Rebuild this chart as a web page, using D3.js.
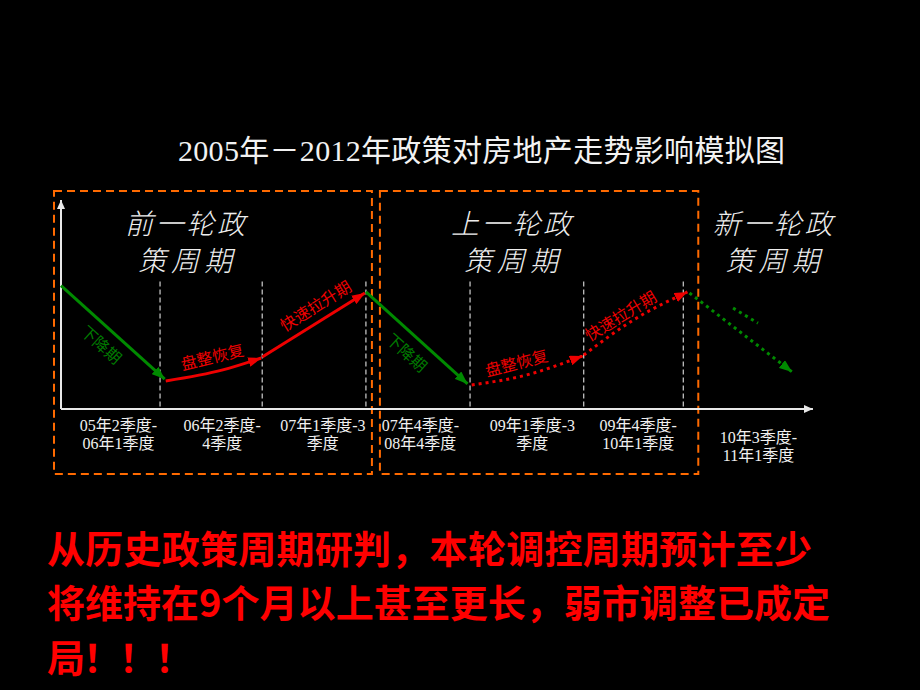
<!DOCTYPE html>
<html><head><meta charset="utf-8">
<script src="https://cdn.jsdelivr.net/npm/d3@7"></script>
<style>html,body{margin:0;padding:0;background:#000;} svg{display:block;}</style>
</head><body><svg id="c" width="920" height="690"></svg>
<script>
// ---------- DATA ----------
const chartTitle = "2005年－2012年政策对房地产走势影响模拟图";
const conclusionLines = ["从历史政策周期研判，本轮调控周期预计至少", "将维持在9个月以上甚至更长，弱市调整已成定", "局！！！"];
const periodTitles = [["前一轮政", "策周期"], ["上一轮政", "策周期"], ["新一轮政", "策周期"]];
const periodTitleX = [1.196, 4.34, 6.86];          // period units
const periodLabels = [["05年2季度-", "06年1季度"], ["06年2季度-", "4季度"], ["07年1季度-3", "季度"],
                      ["07年4季度-", "08年4季度"], ["09年1季度-3", "季度"], ["09年4季度-", "10年1季度"],
                      ["10年3季度-", "11年1季度"]];
const periodLabelX = [0.55, 1.55, 2.52, 3.46, 4.54, 5.56, 6.72];
const boundaries = [0.955, 1.94, 2.94, 3.944, 5.04, 6.0];
const boundaryTop = 61;
// schematic market index per phase: [period position, index]
const downA = [[0, 59], [1.0, 14.3]];
const flatA = [[1.01, 13.4], [1.56, 18.7], [1.93, 24.4]];
const upA   = [[1.94, 24.9], [2.93, 55.5]];
const downB = [[2.94, 56], [3.92, 12]];
const flatB = [[3.96, 11.5], [4.49, 16.3], [5.03, 25.4]];
const upB   = [[5.04, 25.8], [5.52, 42.6], [6.04, 56]];
const downC = [[6.06, 55.5], [7.05, 17.7]];
const hintC = [[6.48, 48.3], [6.72, 41.1]];
const phaseNames = ["下降期", "盘整恢复", "快速拉升期", "下降期", "盘整恢复", "快速拉升期"];
const phaseLabelPos = [[0.395, 31.1], [1.456, 25.4], [2.45, 49.8], [3.34, 27.3], [4.39, 22.5], [5.39, 45]];

// ---------- LAYOUT ----------
const svg = d3.select("#c");
svg.append("rect").attr("width", 920).attr("height", 690).attr("fill", "#000");
const x = d3.scaleLinear().domain([0, 7]).range([61, 787]);
const y = d3.scaleLinear().domain([0, 100]).range([409, 200]);
const GREEN = "#008a00", RED = "#ee0000", ORANGE = "#ff6a00";
const CJK = "'Noto Sans CJK SC', sans-serif";
const SERIF = "'Liberation Serif', 'Noto Sans CJK SC', serif";

const defs = svg.append("defs");
function marker(id, color, w, h) {
  defs.append("marker").attr("id", id).attr("markerUnits", "userSpaceOnUse")
    .attr("viewBox", `0 0 ${w} ${h}`).attr("markerWidth", w).attr("markerHeight", h)
    .attr("refX", w).attr("refY", h / 2).attr("orient", "auto")
    .append("path").attr("d", `M0,0L${w},${h / 2}L0,${h}Z`).attr("fill", color);
}
marker("ag", GREEN, 13, 10);
marker("ar", RED, 13, 10);
marker("aw", "#e8e8e8", 9, 8);

// title
svg.append("text").attr("x", 178).attr("y", 161).attr("fill", "#f2f2f2")
  .attr("font-family", SERIF).attr("font-size", 30)
  .attr("textLength", 607).attr("lengthAdjust", "spacing").text(chartTitle);

// orange frames
const frames = [[x(0) - 7, x(boundaries[2]) + 6], [x(boundaries[2]) + 14, x(boundaries[5]) + 15]];
svg.selectAll(".frame").data(frames).join("rect").attr("class", "frame")
  .attr("x", d => d[0]).attr("y", 191).attr("width", d => d[1] - d[0]).attr("height", 283)
  .attr("fill", "none").attr("stroke", ORANGE).attr("stroke-width", 2).attr("stroke-dasharray", "8,5");

// period boundaries
svg.selectAll(".bnd").data(boundaries).join("line").attr("class", "bnd")
  .attr("x1", d => x(d)).attr("x2", d => x(d)).attr("y1", y(boundaryTop)).attr("y2", y(0))
  .attr("stroke", "#cfcfcf").attr("stroke-width", 1.2).attr("stroke-dasharray", "5,3");

// axes
svg.append("line").attr("x1", x(0)).attr("x2", x(0)).attr("y1", y(0)).attr("y2", y(100))
  .attr("stroke", "#e8e8e8").attr("stroke-width", 2).attr("marker-end", "url(#aw)");
svg.append("line").attr("x1", x(0)).attr("x2", x(7.25)).attr("y1", y(0)).attr("y2", y(0))
  .attr("stroke", "#e8e8e8").attr("stroke-width", 2).attr("marker-end", "url(#aw)");

const xAxis = d3.axisBottom(x).tickValues(periodLabelX).tickSize(0).tickFormat(() => "");
const ax = svg.append("g").attr("transform", `translate(0,${y(0)})`).call(xAxis);
ax.select(".domain").remove();
ax.selectAll(".tick text").each(function (d, i) {
  const t = d3.select(this).attr("fill", "#f0f0f0").attr("font-family", SERIF).attr("font-size", 16)
    .attr("y", 0).attr("dy", null);
  const off = i === 6 ? 12 : 0;
  periodLabels[i].forEach((s, k) => {
    t.append("tspan").attr("x", 0).attr("y", 22 + off + k * 18).text(s);
  });
});

// period titles
periodTitles.forEach((lines, i) => {
  lines.forEach((s, k) => {
    svg.append("text").attr("x", x(periodTitleX[i])).attr("y", 234 + k * 37)
      .attr("text-anchor", "middle").attr("fill", "#eeeeee")
      .attr("font-family", CJK).attr("font-weight", 300).attr("font-style", "italic")
      .attr("font-size", 28).attr("textLength", k === 0 ? 120 : 94).attr("lengthAdjust", "spacing")
      .text(s);
  });
});

// phase lines
const lineGen = d3.line().x(d => x(d[0])).y(d => y(d[1])).curve(d3.curveMonotoneX);
const phases = [
  {pts: downA, c: GREEN, m: "ag", dot: false},
  {pts: flatA, c: RED, m: "ar", dot: false},
  {pts: upA, c: RED, m: "ar", dot: false},
  {pts: downB, c: GREEN, m: "ag", dot: false},
  {pts: flatB, c: RED, m: "ar", dot: true},
  {pts: upB, c: RED, m: "ar", dot: true},
  {pts: downC, c: GREEN, m: "ag", dot: true},
  {pts: hintC, c: GREEN, m: null, dot: true}
];
svg.selectAll(".phase").data(phases).join("path").attr("class", "phase")
  .attr("d", d => lineGen(d.pts)).attr("fill", "none").attr("stroke", d => d.c)
  .attr("stroke-width", 3).attr("stroke-dasharray", d => d.dot ? "3,4" : null)
  .attr("marker-end", d => d.m ? `url(#${d.m})` : null);

// phase labels, rotated along their phase
phaseNames.forEach((name, i) => {
  const p = phases[i].pts, a = p[0], b = p[p.length - 1];
  const ang = Math.atan2(y(b[1]) - y(a[1]), x(b[0]) - x(a[0])) * 180 / Math.PI;
  const px = x(phaseLabelPos[i][0]), py = y(phaseLabelPos[i][1]);
  svg.append("text").attr("transform", `translate(${px},${py}) rotate(${ang})`)
    .attr("text-anchor", "middle").attr("dominant-baseline", "central")
    .attr("fill", phases[i].c === GREEN ? "#007a00" : RED)
    .attr("font-family", CJK).attr("font-size", 16).text(name);
});

// conclusion
const conclW = [765, 783, 146];
conclusionLines.forEach((s, i) => {
  svg.append("text").attr("x", 47).attr("y", 546 + i * 54.5).attr("dominant-baseline", "central")
    .attr("fill", "#ff0000").attr("font-family", CJK).attr("font-weight", 700).attr("font-size", 38)
    .attr("textLength", conclW[i]).attr("lengthAdjust", "spacing").text(s);
});
</script></body></html>
